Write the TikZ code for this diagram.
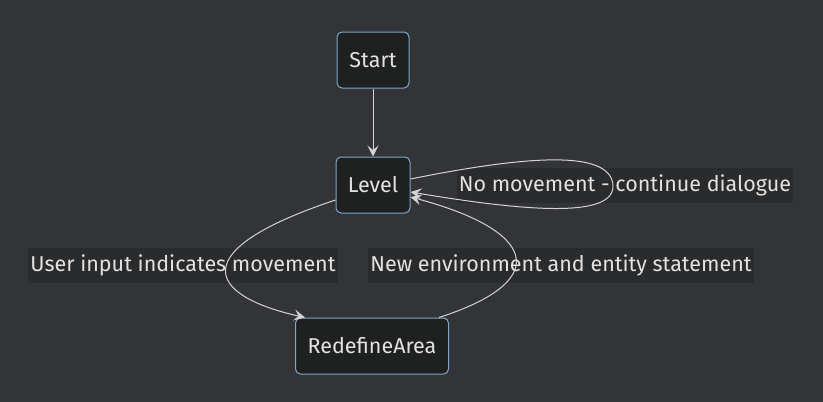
\documentclass[tikz,border=0pt]{standalone}
\usepackage{fontspec}
\setmainfont{Fira Sans}
\usepackage{tikz}
\usetikzlibrary{arrows.meta}
\definecolor{bgcol}{HTML}{333437}
\definecolor{boxfill}{HTML}{1F2020}
\definecolor{boxline}{HTML}{81A6C8}
\definecolor{lblfill}{HTML}{2A2B2D}
\definecolor{txtcol}{HTML}{E2E2E2}
\definecolor{edgecol}{HTML}{D3D3D3}
\tikzset{
  state/.style={draw=boxline, fill=boxfill, rounded corners=5pt, line width=1pt,
    minimum height=56pt, inner xsep=10pt, text=txtcol, font=\fontsize{21.5}{24}\selectfont},
  lbl/.style={fill=lblfill, minimum height=35pt, inner xsep=2pt, text=txtcol,
    font=\fontsize{21.5}{24}\selectfont},
  edge/.style={draw=edgecol, line width=1pt, -{Stealth[length=11pt,width=11pt,inset=4.5pt]}}
}
\begin{document}
\begin{tikzpicture}[x=1pt,y=-1pt]
\fill[bgcol] (0,0) rectangle (823,402);
\useasboundingbox (0,0) rectangle (823,402);

\node[state,minimum width=72pt](1) at (373,60){Start};
\node[state,minimum width=74pt](2) at (373,185){Level};
\node[state,minimum width=153pt](3) at (372,346){RedefineArea};

\node[lbl](4) at (625,185){No movement - continue dialogue};
\node[lbl](5) at (183,265){User input indicates movement};
\node[lbl](6) at (561,265){New environment and entity statement};

\draw [edge](1)--(2);
\draw [edge]([yshift=6pt]2.east) .. controls (530,155) and (610,150) .. (613,185)
  .. controls (615,218) and (530,212) .. ([yshift=-7pt]2.east);
\draw [edge]([yshift=-15pt]2.west) .. controls (185,250) and (205,295) .. ([xshift=10pt]3.north west);
\draw [edge]([xshift=-10pt]3.north east) .. controls (555,280) and (535,230) .. ([yshift=-12pt]2.east);
\end{tikzpicture}
\end{document}
